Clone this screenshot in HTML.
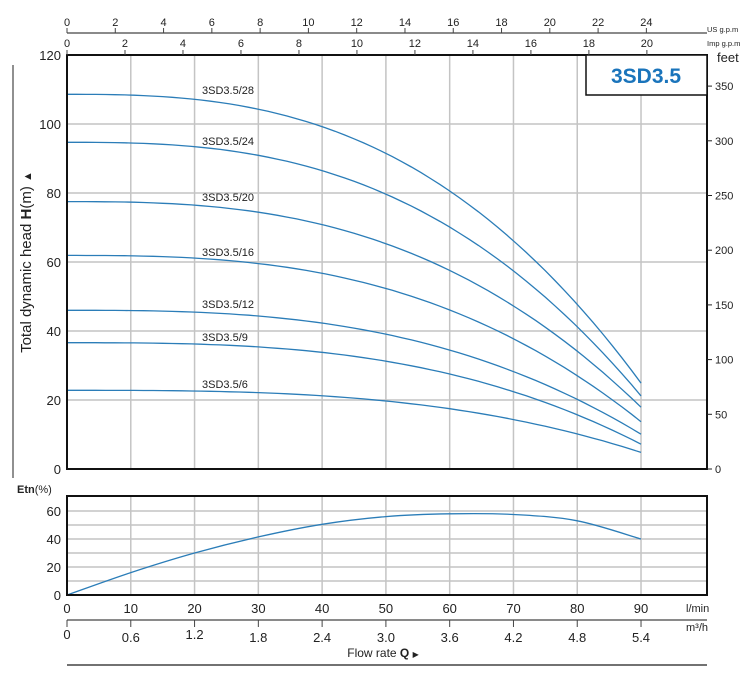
<!DOCTYPE html>
<html><head><meta charset="utf-8">
<style>
html,body{margin:0;padding:0;background:#fff;}
svg{display:block;font-family:"Liberation Sans",Arial,sans-serif;}
</style></head>
<body>
<svg id="s" width="750" height="685" viewBox="0 0 750 685" xmlns="http://www.w3.org/2000/svg"></svg>
<script>
var s=document.getElementById('s'),h='';
var X=function(q){return 67+q*6.378;};
var Y=function(m){return 469-m*3.45;};
var E=function(p){return 595-p*1.4;};
// main grid
for(var i=1;i<10;i++){h+='<line x1="'+X(i*10)+'" y1="55" x2="'+X(i*10)+'" y2="469" stroke="#c4c4c4" stroke-width="1.5"/>';}
for(var i=1;i<6;i++){h+='<line x1="67" y1="'+Y(i*20)+'" x2="707" y2="'+Y(i*20)+'" stroke="#c4c4c4" stroke-width="1.5"/>';}
// curves
var C=[[28,108.6,24.9,2.7],[24,94.7,21.2,2.7],[20,77.5,17.9,2.7],[16,61.9,13.7,2.75],[12,46,10.1,2.8],[9,36.6,7.2,2.9],[6,22.8,4.8,3.0]];
var LY={28:90,24:141,20:197,16:252,12:304,9:337,6:384};
C.forEach(function(c){var d='';for(var q=0;q<=90;q+=1.5){var v=c[1]-(c[1]-c[2])*Math.pow(q/90,c[3]);d+=(q?'L':'M')+X(q).toFixed(1)+' '+Y(v).toFixed(1);}
h+='<path d="'+d+'" fill="none" stroke="#2b7db8" stroke-width="1.3"/>';
h+='<text x="202" y="'+(LY[c[0]]+4)+'" font-size="11" fill="#222">3SD3.5/'+c[0]+'</text>';});
h+='<rect x="67" y="55" width="640" height="414" fill="none" stroke="#111" stroke-width="2"/>';
// left labels
for(var i=0;i<=6;i++){h+='<text x="61" y="'+(Y(i*20)+5)+'" font-size="13" text-anchor="end" fill="#222">'+(i*20)+'</text>';}
h+='<line x1="13" y1="65" x2="13" y2="478" stroke="#222" stroke-width="1"/>';
h+='<text transform="translate(31,262) rotate(-90)" font-size="15" text-anchor="middle" fill="#222">Total dynamic head <tspan font-weight="bold">H</tspan>(m) <tspan font-size="11">&#9650;</tspan></text>';
// feet axis
for(var f=0;f<=350;f+=50){var y=469-f*1.094;h+='<line x1="707" y1="'+y+'" x2="712" y2="'+y+'" stroke="#222"/><text x="715" y="'+(y+4)+'" font-size="11" fill="#222">'+f+'</text>';}
h+='<text x="717" y="62" font-size="13" fill="#222">feet</text>';
// model box
h+='<rect x="586" y="55" width="121" height="40" fill="#fff" stroke="#111" stroke-width="1.5"/><text x="646" y="83" font-size="21" font-weight="bold" text-anchor="middle" fill="#1a74bb">3SD3.5</text>';
// top axes
h+='<line x1="67" y1="33" x2="707" y2="33" stroke="#444" stroke-width="1.2"/>';
for(var g=0;g<=24;g+=2){var x=X(g*3.785);h+='<line x1="'+x+'" y1="28" x2="'+x+'" y2="33" stroke="#444"/><text x="'+x+'" y="26" font-size="11" text-anchor="middle" fill="#222">'+g+'</text>';}
for(var g=0;g<=20;g+=2){var x=X(g*4.546);h+='<line x1="'+x+'" y1="50" x2="'+x+'" y2="55" stroke="#444"/><text x="'+x+'" y="47" font-size="11" text-anchor="middle" fill="#222">'+g+'</text>';}
h+='<text x="707" y="32" font-size="7.5" fill="#222">US g.p.m</text><text x="707" y="46" font-size="7.5" fill="#222">Imp g.p.m</text>';
// efficiency
for(var i=1;i<10;i++){h+='<line x1="'+X(i*10)+'" y1="496" x2="'+X(i*10)+'" y2="595" stroke="#c4c4c4" stroke-width="1.5"/>';}
for(var i=1;i<7;i++){h+='<line x1="67" y1="'+E(i*10)+'" x2="707" y2="'+E(i*10)+'" stroke="#c4c4c4" stroke-width="1.5"/>';}
var ep=[[0,0],[10,16],[20,30],[30,41.5],[40,50.5],[50,56],[60,58],[70,57.5],[80,53],[90,40]],d='M'+X(0)+' '+E(0);
for(var i=1;i<ep.length;i++){var p0=ep[Math.max(i-2,0)],p1=ep[i-1],p2=ep[i],p3=ep[Math.min(i+1,ep.length-1)];
d+='C'+X(p1[0]+(p2[0]-p0[0])/6)+' '+E(p1[1]+(p2[1]-p0[1])/6)+' '+X(p2[0]-(p3[0]-p1[0])/6)+' '+E(p2[1]-(p3[1]-p1[1])/6)+' '+X(p2[0])+' '+E(p2[1]);}
h+='<path d="'+d+'" fill="none" stroke="#2b7db8" stroke-width="1.3"/>';
h+='<rect x="67" y="496" width="640" height="99" fill="none" stroke="#111" stroke-width="2"/>';
for(var i=0;i<=3;i++){h+='<text x="61" y="'+(E(i*20)+5)+'" font-size="13" text-anchor="end" fill="#222">'+(i*20)+'</text>';}
h+='<text x="17" y="493" font-size="11" fill="#222"><tspan font-weight="bold">Etn</tspan>(%)</text>';
// bottom axes
var m=['0','0.6','1.2','1.8','2.4','3.0','3.6','4.2','4.8','5.4'];
for(var i=0;i<=9;i++){var x=X(i*10);h+='<text x="'+x+'" y="613" font-size="13" text-anchor="middle" fill="#222">'+(i*10)+'</text>';
h+='<line x1="'+x+'" y1="620" x2="'+x+'" y2="627" stroke="#444"/><text x="'+x+'" y="'+(i==0||i==2?639:642)+'" font-size="13" text-anchor="middle" fill="#222">'+m[i]+'</text>';}
h+='<line x1="67" y1="620" x2="707" y2="620" stroke="#444" stroke-width="1.2"/>';
h+='<text x="686" y="612" font-size="11" fill="#222">l/min</text><text x="686" y="631" font-size="11" fill="#222">m³/h</text>';
h+='<text x="383" y="657" font-size="12" text-anchor="middle" fill="#222">Flow rate  <tspan font-weight="bold">Q</tspan> <tspan font-size="8">&#9654;</tspan></text>';
h+='<line x1="67" y1="665" x2="707" y2="665" stroke="#444" stroke-width="1.5"/>';
s.innerHTML=h;
</script>
</body></html>
